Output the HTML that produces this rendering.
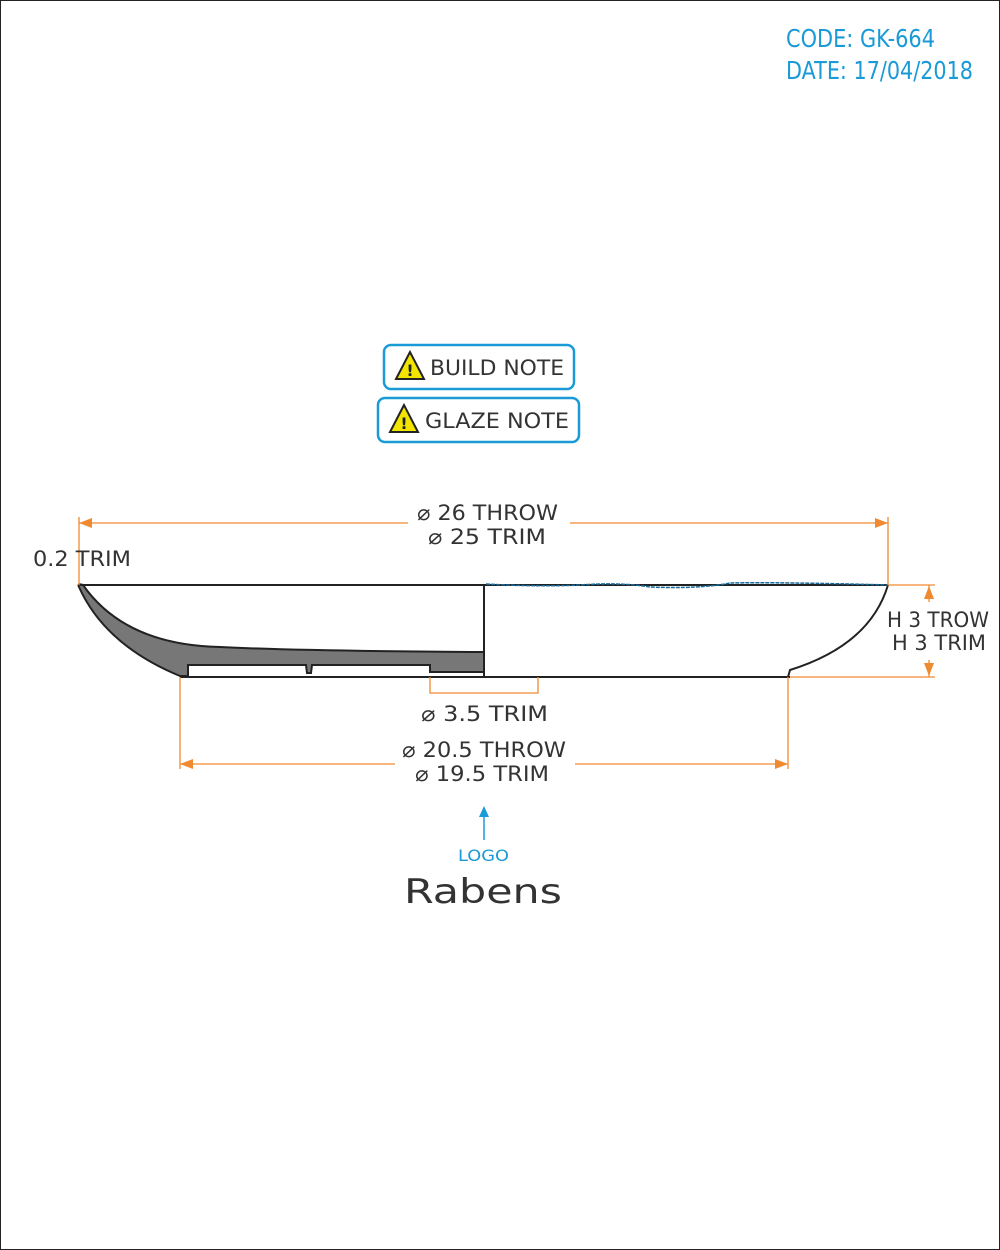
<!DOCTYPE html>
<html><head><meta charset="utf-8"><style>
html,body{margin:0;padding:0;background:#fff}
svg{display:block}
text{font-family:"DejaVu Sans","Liberation Sans",sans-serif}
</style></head><body>
<svg width="1000" height="1250" viewBox="0 0 1000 1250">
<rect x="0.5" y="0.5" width="999" height="1249" fill="#fff" stroke="#222" stroke-width="1"/>
<g fill="#1a9ad6" font-family="Liberation Sans Narrow, Liberation Sans, sans-serif" font-size="25">
<text x="786" y="47" textLength="149" lengthAdjust="spacingAndGlyphs">CODE: GK-664</text>
<text x="786" y="79" textLength="187" lengthAdjust="spacingAndGlyphs">DATE: 17/04/2018</text>
</g>
<g>
<rect x="384" y="345" width="190" height="44" rx="7" fill="#fff" stroke="#1a9ad6" stroke-width="2.5"/>
<polygon points="410,352 396,379 424,379" fill="#f2e600" stroke="#222" stroke-width="2"/>
<text x="410" y="376" text-anchor="middle" font-size="16" font-weight="bold" fill="#222">!</text>
<text x="430" y="375" font-size="21" fill="#333" textLength="134" lengthAdjust="spacingAndGlyphs">BUILD NOTE</text>
</g>
<g>
<rect x="378" y="398" width="201" height="44" rx="7" fill="#fff" stroke="#1a9ad6" stroke-width="2.5"/>
<polygon points="404,405 390,432 418,432" fill="#f2e600" stroke="#222" stroke-width="2"/>
<text x="404" y="429" text-anchor="middle" font-size="16" font-weight="bold" fill="#222">!</text>
<text x="425" y="428" font-size="21" fill="#333" textLength="144" lengthAdjust="spacingAndGlyphs">GLAZE NOTE</text>
</g>
<g>
<path d="M79,587 Q77,583 83,585 Q125,645 220,647 Q300,651 484,652 L484,672 L430,672 L430,665 L312,665 L311,673 L307,673 L306,665 L188,665 L188,676 L180,676 Q105,645 79,587 Z" fill="#777" stroke="#222" stroke-width="2"/>
<line x1="80" y1="585" x2="888" y2="585" stroke="#222" stroke-width="2"/>
<line x1="180" y1="677" x2="790" y2="677" stroke="#222" stroke-width="2"/>
<line x1="484" y1="585" x2="484" y2="677" stroke="#222" stroke-width="2"/>
<path d="M888,585 Q870,645 790,670 L788,677" fill="none" stroke="#222" stroke-width="2"/>
<path d="M486,584 Q540,587 580,585 Q620,582 650,587 Q700,589 730,583 Q780,582 888,585" fill="none" stroke="#1a6a9a" stroke-width="1.5" stroke-dasharray="4 1"/>
</g>
<g stroke="#f08a30" stroke-width="1.3" fill="none">
<line x1="79" y1="517" x2="79" y2="585"/><line x1="888" y1="517" x2="888" y2="585"/>
<line x1="79" y1="523" x2="408" y2="523"/><line x1="570" y1="523" x2="888" y2="523"/>
<line x1="180" y1="677" x2="180" y2="769"/><line x1="788" y1="677" x2="788" y2="769"/>
<line x1="180" y1="764" x2="395" y2="764"/><line x1="575" y1="764" x2="788" y2="764"/>
<line x1="888" y1="585" x2="935" y2="585"/><line x1="790" y1="677" x2="935" y2="677"/>
<line x1="929" y1="585" x2="929" y2="602"/><line x1="929" y1="660" x2="929" y2="677"/>
<polyline points="430,677 430,693 538,693 538,677"/>
</g>
<g fill="#f08a30">
<polygon points="79,523 92,518 92,528"/><polygon points="888,523 875,518 875,528"/>
<polygon points="180,764 193,759 193,769"/><polygon points="788,764 775,759 775,769"/>
<polygon points="929,586 924,599 934,599"/><polygon points="929,676 924,663 934,663"/>
</g>
<g fill="#333" font-size="21">
<text x="417" y="520" textLength="141" lengthAdjust="spacingAndGlyphs">⌀ 26 THROW</text>
<text x="428" y="544" textLength="118" lengthAdjust="spacingAndGlyphs">⌀ 25 TRIM</text>
<text x="33" y="566" textLength="98" lengthAdjust="spacingAndGlyphs">0.2 TRIM</text>
<text x="887" y="627" textLength="102" lengthAdjust="spacingAndGlyphs">H 3 TROW</text>
<text x="892" y="650" textLength="94" lengthAdjust="spacingAndGlyphs">H 3 TRIM</text>
<text x="421" y="721" textLength="127" lengthAdjust="spacingAndGlyphs">⌀ 3.5 TRIM</text>
<text x="402" y="757" textLength="164" lengthAdjust="spacingAndGlyphs">⌀ 20.5 THROW</text>
<text x="415" y="781" textLength="134" lengthAdjust="spacingAndGlyphs">⌀ 19.5 TRIM</text>
</g>
<g>
<line x1="484" y1="840" x2="484" y2="815" stroke="#1a9ad6" stroke-width="1.5"/>
<polygon points="484,806 479,817 489,817" fill="#1a9ad6"/>
<text x="458" y="861" font-size="16" fill="#1a9ad6" textLength="51" lengthAdjust="spacingAndGlyphs">LOGO</text>
<text x="404" y="903" font-size="34" fill="#333" textLength="158" lengthAdjust="spacingAndGlyphs">Rabens</text>
</g>
</svg>
</body></html>
